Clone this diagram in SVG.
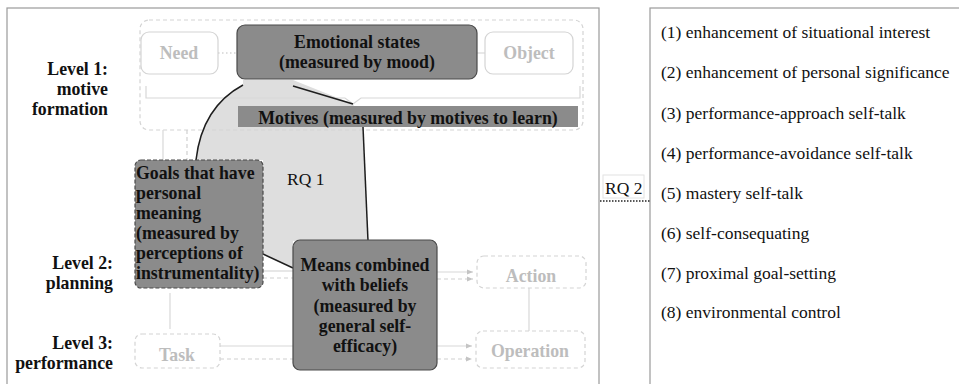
<svg xmlns="http://www.w3.org/2000/svg" width="959" height="384" viewBox="0 0 959 384">
  <style>
    .frame { fill: none; stroke: #9a9a9a; stroke-width: 1.2; }
    .dark { fill: #8b8b8b; stroke: #4a4a4a; stroke-width: 1.2; }
    .darkdash { fill: #8b8b8b; stroke: #4a4a4a; stroke-width: 1.2; stroke-dasharray: 4 2; }
    .ghost { fill: #ffffff; stroke: #d4d4d4; stroke-width: 1.2; }
    .ghostdash { fill: none; stroke: #d4d4d4; stroke-width: 1.2; stroke-dasharray: 4 3; }
    .thin { fill: none; stroke: #d8d8d8; stroke-width: 1.2; }
    .thindash { fill: none; stroke: #d0d0d0; stroke-width: 1.2; stroke-dasharray: 4 3; }
    .ink { fill: none; stroke: #1e1e1e; stroke-width: 1.5; }
    text { font-family: "Liberation Serif", Tinos, "DejaVu Serif", serif; }
    .lbl { font-weight: bold; font-size: 17.8px; fill: #111; }
    .glbl { font-weight: bold; font-size: 17.8px; fill: #bdbdbd; text-anchor: middle; }
    .txt { font-size: 17.5px; fill: #111; }
  </style>
  <defs>
    <marker id="arr" viewBox="0 0 6 6" refX="6" refY="3" markerWidth="6" markerHeight="6" orient="auto" markerUnits="userSpaceOnUse">
      <path d="M0,0.5 L6,3 L0,5.5 Z" fill="#c4c4c4"/>
    </marker>
  </defs>

  <!-- outer frames -->
  <rect class="frame" x="7" y="8" width="592" height="390"/>
  <rect class="frame" x="650" y="8" width="320" height="390"/>

  <!-- shaded RQ 1 region -->
  <path d="M243,80 L293,80 L353,104 L363,127 L368,241 L293,241 L293,268 L263,254 L263,160 L196,160 C200,125 215,100 243,85 Z" fill="#dedede"/>

  <!-- level 1 frame and brace -->
  <rect class="ghostdash" x="140" y="20" width="443" height="110" rx="9"/>
  <path class="thin" d="M146,86 V98 H345 L353,104 L361,98 H580 V86"/>

  <!-- level labels -->
  <g id="level1" class="lbl" text-anchor="end">
    <text x="108" y="75">Level 1:</text>
    <text x="108" y="95">motive</text>
    <text x="108" y="115">formation</text>
  </g>
  <g id="level2" class="lbl" text-anchor="end">
    <text x="113" y="269">Level 2:</text>
    <text x="113" y="289">planning</text>
  </g>
  <g id="level3" class="lbl" text-anchor="end">
    <text x="113" y="349">Level 3:</text>
    <text x="113" y="369">performance</text>
  </g>

  <!-- connectors -->
  <g id="connectors">
    <line x1="218" y1="53" x2="237" y2="53" stroke="#bdbdbd" stroke-width="1.2" stroke-dasharray="1.5 2.5"/>
    <line class="thin" x1="477" y1="53" x2="485" y2="53"/>
    <line class="thin" x1="163" y1="130" x2="163" y2="160"/>
    <line class="thindash" x1="187" y1="130" x2="187" y2="160"/>
    <line class="thin" x1="263" y1="271" x2="293" y2="271"/>
    <line class="thindash" x1="263" y1="278" x2="293" y2="278"/>
    <line class="thin" x1="170" y1="293" x2="170" y2="329"/>
    <line class="thin" x1="220" y1="346" x2="293" y2="346"/>
    <line class="thindash" x1="220" y1="359" x2="293" y2="359"/>
    <line class="thin" x1="437" y1="272" x2="473" y2="272" marker-end="url(#arr)"/>
    <line class="thindash" x1="437" y1="279" x2="473" y2="279" marker-end="url(#arr)"/>
    <line class="thin" x1="437" y1="346" x2="472" y2="346" marker-end="url(#arr)"/>
    <line class="thindash" x1="437" y1="359" x2="472" y2="359" marker-end="url(#arr)"/>
    <line class="thin" x1="529" y1="288" x2="529" y2="331"/>
    <path class="ink" d="M196,160 C200,125 215,100 243,85"/>
    <line class="ink" x1="293" y1="86" x2="353" y2="104"/>
    <line class="ink" x1="363" y1="127" x2="368" y2="241"/>
    <line class="ink" x1="263" y1="254" x2="293" y2="268"/>
    <line x1="600" y1="201" x2="650" y2="201" stroke="#222" stroke-width="1.3" stroke-dasharray="1.5 1.5"/>
  </g>

  <!-- level 1 nodes -->
  <g id="need">
    <rect class="ghost" x="141" y="32" width="77" height="42" rx="8"/>
    <text class="glbl" x="179" y="59">Need</text>
  </g>
  <g id="emotional-states">
    <rect class="dark" x="237" y="25" width="240" height="54" rx="8"/>
    <text class="lbl" x="357" y="48" text-anchor="middle">Emotional states</text>
    <text class="lbl" x="357" y="68" text-anchor="middle">(measured by mood)</text>
  </g>
  <g id="object">
    <rect class="ghost" x="485" y="32" width="88" height="42" rx="8"/>
    <text class="glbl" x="529" y="59">Object</text>
  </g>
  <g id="motives">
    <rect x="238" y="106" width="340" height="21" fill="#8b8b8b"/>
    <text class="lbl" x="408" y="124" text-anchor="middle">Motives (measured by motives to learn)</text>
  </g>

  <!-- level 2 nodes -->
  <g id="goals">
    <rect class="darkdash" x="135" y="160" width="128" height="128" rx="6"/>
    <text class="lbl" x="136" y="179">Goals that have</text>
    <text class="lbl" x="136" y="199">personal</text>
    <text class="lbl" x="136" y="219">meaning</text>
    <text class="lbl" x="136" y="239">(measured by</text>
    <text class="lbl" x="136" y="259">perceptions of</text>
    <text class="lbl" x="136" y="279">instrumentality)</text>
  </g>
  <g id="means">
    <rect class="dark" x="293" y="240" width="144" height="130" rx="7"/>
    <text class="lbl" x="365" y="271" text-anchor="middle">Means combined</text>
    <text class="lbl" x="365" y="291" text-anchor="middle">with beliefs</text>
    <text class="lbl" x="365" y="312" text-anchor="middle">(measured by</text>
    <text class="lbl" x="365" y="332" text-anchor="middle">general self-</text>
    <text class="lbl" x="365" y="352" text-anchor="middle">efficacy)</text>
  </g>
  <g id="action">
    <rect class="ghostdash" x="477" y="256" width="109" height="32" rx="7"/>
    <text class="glbl" x="531" y="282">Action</text>
  </g>

  <!-- level 3 nodes -->
  <g id="task">
    <rect class="ghostdash" x="135" y="334" width="85" height="34" rx="7"/>
    <text class="glbl" x="177" y="361">Task</text>
  </g>
  <g id="operation">
    <rect class="ghostdash" x="476" y="331" width="109" height="37" rx="7"/>
    <text class="glbl" x="530" y="357">Operation</text>
  </g>

  <!-- research question labels -->
  <g id="rq1">
    <text class="txt" x="287" y="185">RQ 1</text>
  </g>
  <g id="rq2">
    <rect x="603" y="175" width="41" height="23" fill="#fff" stroke="#e2e2e2" stroke-width="1"/>
    <text class="txt" x="605" y="194">RQ 2</text>
  </g>

  <!-- strategy list -->
  <g id="strategies" class="txt">
    <text x="661" y="38">(1) enhancement of situational interest</text>
    <text x="661" y="78">(2) enhancement of personal significance</text>
    <text x="661" y="119">(3) performance-approach self-talk</text>
    <text x="661" y="159">(4) performance-avoidance self-talk</text>
    <text x="661" y="199">(5) mastery self-talk</text>
    <text x="661" y="239">(6) self-consequating</text>
    <text x="661" y="279">(7) proximal goal-setting</text>
    <text x="661" y="318">(8) environmental control</text>
  </g>
</svg>
